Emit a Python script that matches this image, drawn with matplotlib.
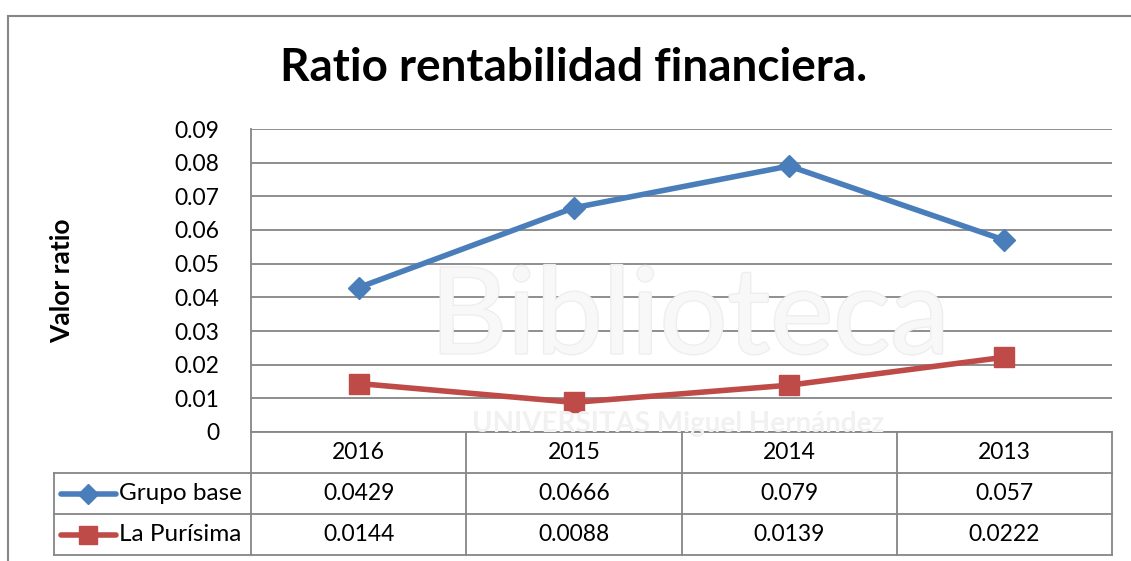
import matplotlib
matplotlib.use("Agg")
import matplotlib.pyplot as plt
from matplotlib.lines import Line2D
from matplotlib.patches import Rectangle
import matplotlib.patheffects as pe

# ---- data ----
categories = ["2016", "2015", "2014", "2013"]
grupo_base = [0.0429, 0.0666, 0.079, 0.057]
la_purisima = [0.0144, 0.0088, 0.0139, 0.0222]
grupo_labels = ["0.0429", "0.0666", "0.079", "0.057"]
purisima_labels = ["0.0144", "0.0088", "0.0139", "0.0222"]
series_names = ["Grupo base", "La Purísima"]
yticks = [0.0, 0.01, 0.02, 0.03, 0.04, 0.05, 0.06, 0.07, 0.08, 0.09]
ytick_labels = ["0", "0.01", "0.02", "0.03", "0.04", "0.05", "0.06", "0.07", "0.08", "0.09"]
title = "Ratio rentabilidad financiera."
ylabel = "Valor ratio"

plt.rcParams['font.family'] = ['Lato', 'DejaVu Sans']

W, H = 1131, 561
fig = plt.figure(figsize=(W / 100, H / 100), dpi=100)
fig.patch.set_facecolor("white")

# outer chart frame
fig.add_artist(Rectangle((8 / W, -0.1), 1.2, 1 - 16 / H + 0.1, transform=fig.transFigure,
                         fill=False, edgecolor="#868686", linewidth=1.5))

L, R, T, B = 251, 1112, 129, 432
ax = fig.add_axes([L / W, 1 - B / H, (R - L) / W, (B - T) / H])
ax.set_facecolor("none")

blue = "#4A7EBB"
red = "#BE4B48"
grid_c = "#868686"
fs = 16.5

x = list(range(len(categories)))
ax.set_xlim(-0.5, len(categories) - 0.5)
ax.set_ylim(0, 0.09)
ax.set_yticks(yticks)
ax.set_yticklabels(ytick_labels, fontsize=fs)
ax.tick_params(axis="y", length=0, pad=23)
ax.set_xticks([])
ax.grid(axis="y", color=grid_c, linewidth=1.3)
ax.set_axisbelow(True)
for s in ["top", "right", "bottom"]:
    ax.spines[s].set_visible(False)
ax.spines["left"].set_color(grid_c)
ax.spines["left"].set_linewidth(1.3)

# faint watermark
fig.text(0.61, 0.43, "Biblioteca", fontsize=86, color="#f8f8f8", ha="center", va="center",
         zorder=0, path_effects=[pe.withStroke(linewidth=2, foreground="#eeeeee")])
fig.text(0.6, 0.245, "UNIVERSITAS Miguel Hernández", fontsize=20, color="#f1f1f1",
         ha="center", va="center", zorder=0, fontweight="bold")

ax.plot(x, grupo_base, color=blue, linewidth=4, marker="D", markersize=11,
        markerfacecolor=blue, markeredgecolor=blue, solid_capstyle="round", zorder=3)
ax.plot(x, la_purisima, color=red, linewidth=4, marker="s", markersize=14,
        markerfacecolor=red, markeredgecolor=red, solid_capstyle="round", zorder=3)

# title & y label
fig.text(574 / W, 1 - 68 / H, title, fontsize=33, fontweight="bold", ha="center", va="center")
fig.text(62 / W, 1 - 281 / H, ylabel, fontsize=19, fontweight="bold", rotation=90,
         ha="center", va="center")

# ---- data table below the axes ----
row_h = 41 / (B - T)  # in axes fraction
tb = ax.get_xaxis_transform()  # x data, y axes
n = len(categories)
kw = dict(color=grid_c, linewidth=1.3, clip_on=False)
for i in range(4):
    ax.add_line(Line2D([-0.5, n - 0.5], [-i * row_h, -i * row_h], transform=tb, **kw))
for k in range(n + 1):
    ax.add_line(Line2D([k - 0.5, k - 0.5], [0, -3 * row_h], transform=tb, **kw))
leg_left = (54 - L) / (R - L)
for i in (1, 2, 3):
    ax.add_line(Line2D([leg_left, 0], [-i * row_h, -i * row_h], transform=ax.transAxes, **kw))
ax.add_line(Line2D([leg_left, leg_left], [-row_h, -3 * row_h], transform=ax.transAxes, **kw))

for k, c in enumerate(categories):
    ax.text(k, -0.5 * row_h, c, transform=tb, ha="center", va="center", fontsize=fs)
    ax.text(k, -1.5 * row_h, grupo_labels[k], transform=tb, ha="center", va="center", fontsize=fs)
    ax.text(k, -2.5 * row_h, purisima_labels[k], transform=tb, ha="center", va="center", fontsize=fs)

# legend keys
key_x0 = (61 - L) / (R - L)
key_x1 = (116 - L) / (R - L)
key_xm = (88 - L) / (R - L)
txt_x = (119 - L) / (R - L)
styles = [(blue, "D", 10), (red, "s", 13)]
for i, (name, (col, mk, ms)) in enumerate(zip(series_names, styles)):
    yy = -(1.5 + i) * row_h
    ax.add_line(Line2D([key_x0, key_x1], [yy, yy], transform=ax.transAxes, color=col,
                       linewidth=4, solid_capstyle="round", clip_on=False))
    ax.add_line(Line2D([key_xm], [yy], transform=ax.transAxes, color=col, marker=mk,
                       markersize=ms, markerfacecolor=col, markeredgecolor=col, clip_on=False))
    ax.text(txt_x, yy, name, transform=ax.transAxes, ha="left", va="center", fontsize=17.5)

fig.savefig("out.png", dpi=100, facecolor="white")
